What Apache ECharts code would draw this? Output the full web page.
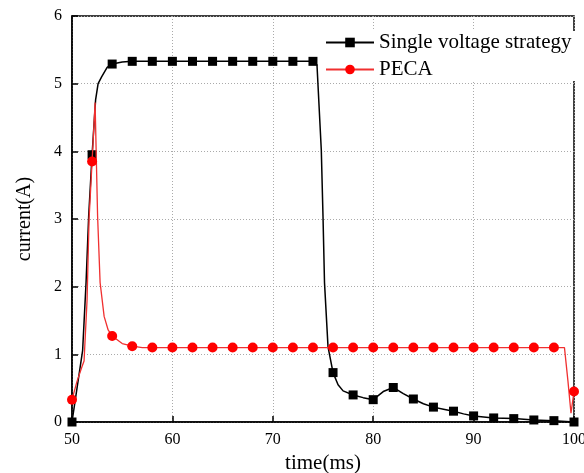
<!DOCTYPE html>
<html><head><meta charset="utf-8">
<script src="https://cdn.jsdelivr.net/npm/echarts@6/dist/echarts.min.js"></script>
<style>html,body{margin:0;padding:0;background:#fff}#c{width:584px;height:473px}</style>
</head><body><div id="c"></div>
<script>
// Single voltage strategy: curve samples (ms, A); markers drawn at even ms
var svsTime = [50,50.5,51.06,51.4,51.66,52,52.35,52.6,52.95,53.5,54,55,56,58,60,62,64,66,68,70,72,74,74.4,74.83,75.0,75.15,75.5,76,76.5,77,78,79,80,81,82,83,84,85,86,87,88,89,90,92,94,96,98,100];
var svsCurrent = [0,0.5,1.06,2.06,3.04,3.95,4.76,5.0,5.1,5.24,5.29,5.32,5.33,5.33,5.33,5.33,5.33,5.33,5.33,5.33,5.33,5.33,5.28,4.02,3.04,2.06,1.11,0.73,0.55,0.46,0.40,0.36,0.33,0.45,0.51,0.42,0.34,0.27,0.22,0.19,0.16,0.12,0.09,0.06,0.05,0.03,0.02,0.0];
// PECA
var pecaTime = [50,50.5,51,51.2,51.5,51.7,52,52.3,52.55,52.8,53.2,53.6,54,55,56,57,58,60,62,64,66,68,70,72,74,76,78,80,82,84,86,88,90,92,94,96,98,99.05,99.4,99.7,100];
var pecaCurrent = [0.33,0.6,0.82,0.9,1.8,3.0,3.85,4.72,3.04,2.06,1.56,1.36,1.27,1.16,1.12,1.10,1.10,1.10,1.10,1.10,1.10,1.10,1.10,1.10,1.10,1.10,1.10,1.10,1.10,1.10,1.10,1.10,1.10,1.10,1.10,1.10,1.10,1.10,0.6,0.13,0.45];
var markerTimes = [50,52,54,56,58,60,62,64,66,68,70,72,74,76,78,80,82,84,86,88,90,92,94,96,98,100];
var xTicks = [50,60,70,80,90,100];
var yTicks = [0,1,2,3,4,5,6];

function build(t, v) {
  return t.map(function (x, i) {
    var d = { value: [x, v[i]] };
    if (markerTimes.indexOf(x) < 0) d.symbol = 'none';
    return d;
  });
}
var serif = '"Liberation Serif", "Times New Roman", serif';
var chart = echarts.init(document.getElementById('c'), null, { renderer: 'canvas' });
chart.setOption({
  animation: false,
  backgroundColor: '#fff',
  grid: { left: 72, right: 10, top: 16, bottom: 51, containLabel: false, outerBoundsMode: 'none',
          show: true, borderColor: '#000', borderWidth: 1.5, backgroundColor: 'transparent' },
  legend: {
    left: 323, top: 31, orient: 'vertical', itemWidth: 48, itemHeight: 12, itemGap: 6,
    backgroundColor: '#fff', padding: [1, 4, 1, 2],
    textStyle: { fontFamily: serif, fontSize: 21, color: '#000' },
    data: ['Single voltage strategy', 'PECA']
  },
  xAxis: {
    type: 'value', min: xTicks[0], max: xTicks[xTicks.length - 1], interval: 10,
    name: 'time(ms)', nameLocation: 'middle', nameGap: 28,
    nameTextStyle: { fontFamily: serif, fontSize: 21, color: '#000' },
    axisLine: { show: true, lineStyle: { color: '#000', width: 1.5 } },
    axisTick: { show: true, inside: true, length: 6, lineStyle: { color: '#000', width: 1.5 } },
    axisLabel: { fontFamily: serif, fontSize: 16, color: '#000', margin: 10 },
    splitLine: { show: true, lineStyle: { color: '#aaa', type: [1, 2], width: 1 } }
  },
  yAxis: {
    type: 'value', min: yTicks[0], max: yTicks[yTicks.length - 1], interval: 1,
    name: 'current(A)', nameLocation: 'middle', nameGap: 37, nameRotate: 90,
    nameTextStyle: { fontFamily: serif, fontSize: 20, color: '#000' },
    axisLine: { show: true, lineStyle: { color: '#000', width: 1.5 } },
    axisTick: { show: true, inside: true, length: 6, lineStyle: { color: '#000', width: 1.5 } },
    axisLabel: { fontFamily: serif, fontSize: 16, color: '#000', margin: 10 },
    splitLine: { show: true, lineStyle: { color: '#aaa', type: [1, 2], width: 1 } }
  },
  series: [
    {
      name: 'Single voltage strategy', type: 'line', data: build(svsTime, svsCurrent),
      symbol: 'rect', symbolSize: 9, showAllSymbol: true, clip: false,
      lineStyle: { color: '#000', width: 1.5 }, itemStyle: { color: '#000' }, z: 2
    },
    {
      name: 'PECA', type: 'line', data: build(pecaTime, pecaCurrent),
      symbol: 'circle', symbolSize: 10, showAllSymbol: true, clip: false,
      lineStyle: { color: '#f03030', width: 1.3 }, itemStyle: { color: '#ff0000' }, z: 3
    }
  ]
});
</script></body></html>
